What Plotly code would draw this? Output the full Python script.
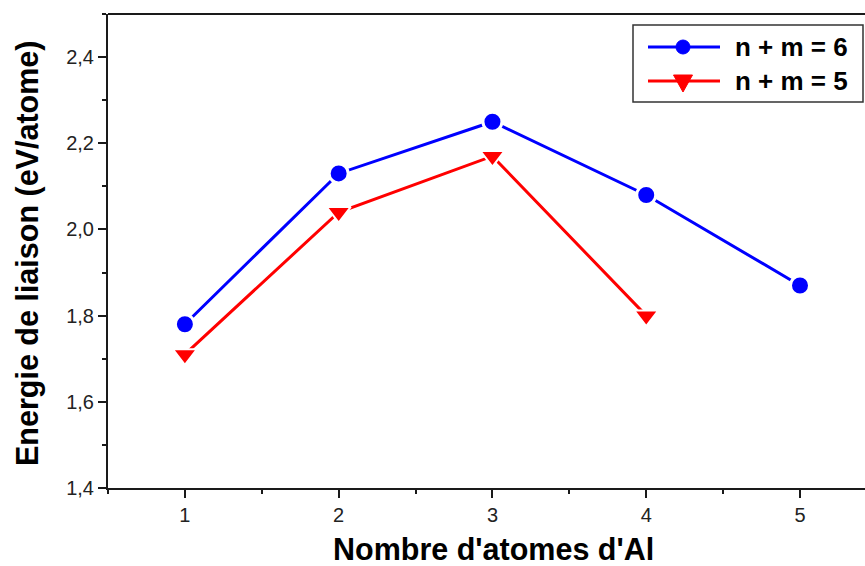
import plotly.graph_objects as go

# Binding energy per atom vs. number of Al atoms, for two cluster sizes
n_al_6 = [1, 2, 3, 4, 5]
e_bind_6 = [1.78, 2.13, 2.25, 2.08, 1.87]
n_al_5 = [1, 2, 3, 4]
e_bind_5 = [1.71, 2.04, 2.17, 1.80]
series_names = ["n + m = 6", "n + m = 5"]
x_ticks = [1, 2, 3, 4, 5]
y_ticks = [1.4, 1.6, 1.8, 2.0, 2.2, 2.4]

W, H = 865, 566
L, R, T, B = 108, 0, 14, 78
PW, PH = W - L - R, H - T - B


def px(x):
    return (x - L) / PW


def py(y):
    return (H - B - y) / PH


BLUE = "#0000FF"
RED = "#FF0000"
AXC = "#1a1a1a"
FONT = "Liberation Sans"

fig = go.Figure()
fig.add_trace(go.Scatter(
    x=n_al_6, y=e_bind_6, name=series_names[0], mode="lines+markers",
    line=dict(color=BLUE, width=3),
    marker=dict(symbol="circle", size=19, color=BLUE, line=dict(color="white", width=3)),
    showlegend=False,
))
fig.add_trace(go.Scatter(
    x=n_al_5, y=e_bind_5, name=series_names[1], mode="lines+markers",
    line=dict(color=RED, width=3),
    marker=dict(symbol="triangle-down", size=21, color=RED, line=dict(color="white", width=2)),
    showlegend=False,
))

axis_common = dict(
    showline=True, linecolor=AXC, linewidth=2,
    ticks="outside", ticklen=8, tickwidth=1.5, tickcolor=AXC,
    showgrid=False, zeroline=False,
    tickfont=dict(family=FONT, size=20, color="#222222"),
)
fig.update_xaxes(
    range=[0.5, 0.5 + (5 - 0.5) * PW / (800 - L)],
    tickvals=x_ticks,
    minor=dict(ticks="outside", ticklen=4, tickwidth=1.5, tickcolor=AXC, dtick=0.5, tick0=0.5),
    **axis_common,
)
fig.update_yaxes(
    range=[1.4, 2.5],
    tickvals=y_ticks, tickformat=".1f",
    minor=dict(ticks="outside", ticklen=4, tickwidth=1.5, tickcolor=AXC, dtick=0.1, tick0=1.4),
    **axis_common,
)

shapes = [
    # top frame line
    dict(type="line", xref="paper", yref="paper", x0=0, x1=1, y0=1, y1=1,
         line=dict(color=AXC, width=2)),
    # legend box
    dict(type="rect", xref="paper", yref="paper", x0=px(633), x1=px(863), y0=py(102), y1=py(25),
         line=dict(color="#333333", width=1.5), fillcolor="white"),
    # legend glyphs
    dict(type="line", xref="paper", yref="paper", x0=px(648), x1=px(720), y0=py(47), y1=py(47),
         line=dict(color=BLUE, width=3)),
    dict(type="circle", xref="paper", yref="paper", x0=px(676), x1=px(690), y0=py(54), y1=py(40),
         line=dict(color=BLUE, width=1), fillcolor=BLUE),
    dict(type="line", xref="paper", yref="paper", x0=px(648), x1=px(720), y0=py(81), y1=py(81),
         line=dict(color=RED, width=3)),
    dict(type="path", xref="paper", yref="paper",
         path=f"M {px(673.5)},{py(75)} L {px(692.5)},{py(75)} L {px(683)},{py(92)} Z",
         line=dict(color=RED, width=1), fillcolor=RED),
]

annotations = [
    dict(text=series_names[0], xref="paper", yref="paper", x=px(733), y=py(47),
         xanchor="left", yanchor="middle", showarrow=False,
         font=dict(family=FONT, size=26, color="black", weight="bold")),
    dict(text=series_names[1], xref="paper", yref="paper", x=px(733), y=py(81),
         xanchor="left", yanchor="middle", showarrow=False,
         font=dict(family=FONT, size=26, color="black", weight="bold")),
    dict(text="Nombre d'atomes d'Al", xref="paper", yref="paper", x=px(494), y=py(549),
         xanchor="center", yanchor="middle", showarrow=False,
         font=dict(family=FONT, size=30.5, color="black", weight="bold")),
    dict(text="Energie de liaison (eV/atome)", xref="paper", yref="paper", x=px(27), y=py(254),
         xanchor="center", yanchor="middle", showarrow=False, textangle=-90,
         font=dict(family=FONT, size=30.5, color="black", weight="bold")),
]

fig.update_layout(
    width=W, height=H,
    margin=dict(l=L, r=R, t=T, b=B, pad=0),
    paper_bgcolor="white", plot_bgcolor="white",
    separators=",.",
    shapes=shapes, annotations=annotations,
    showlegend=False,
)

fig.write_html("out.html")
